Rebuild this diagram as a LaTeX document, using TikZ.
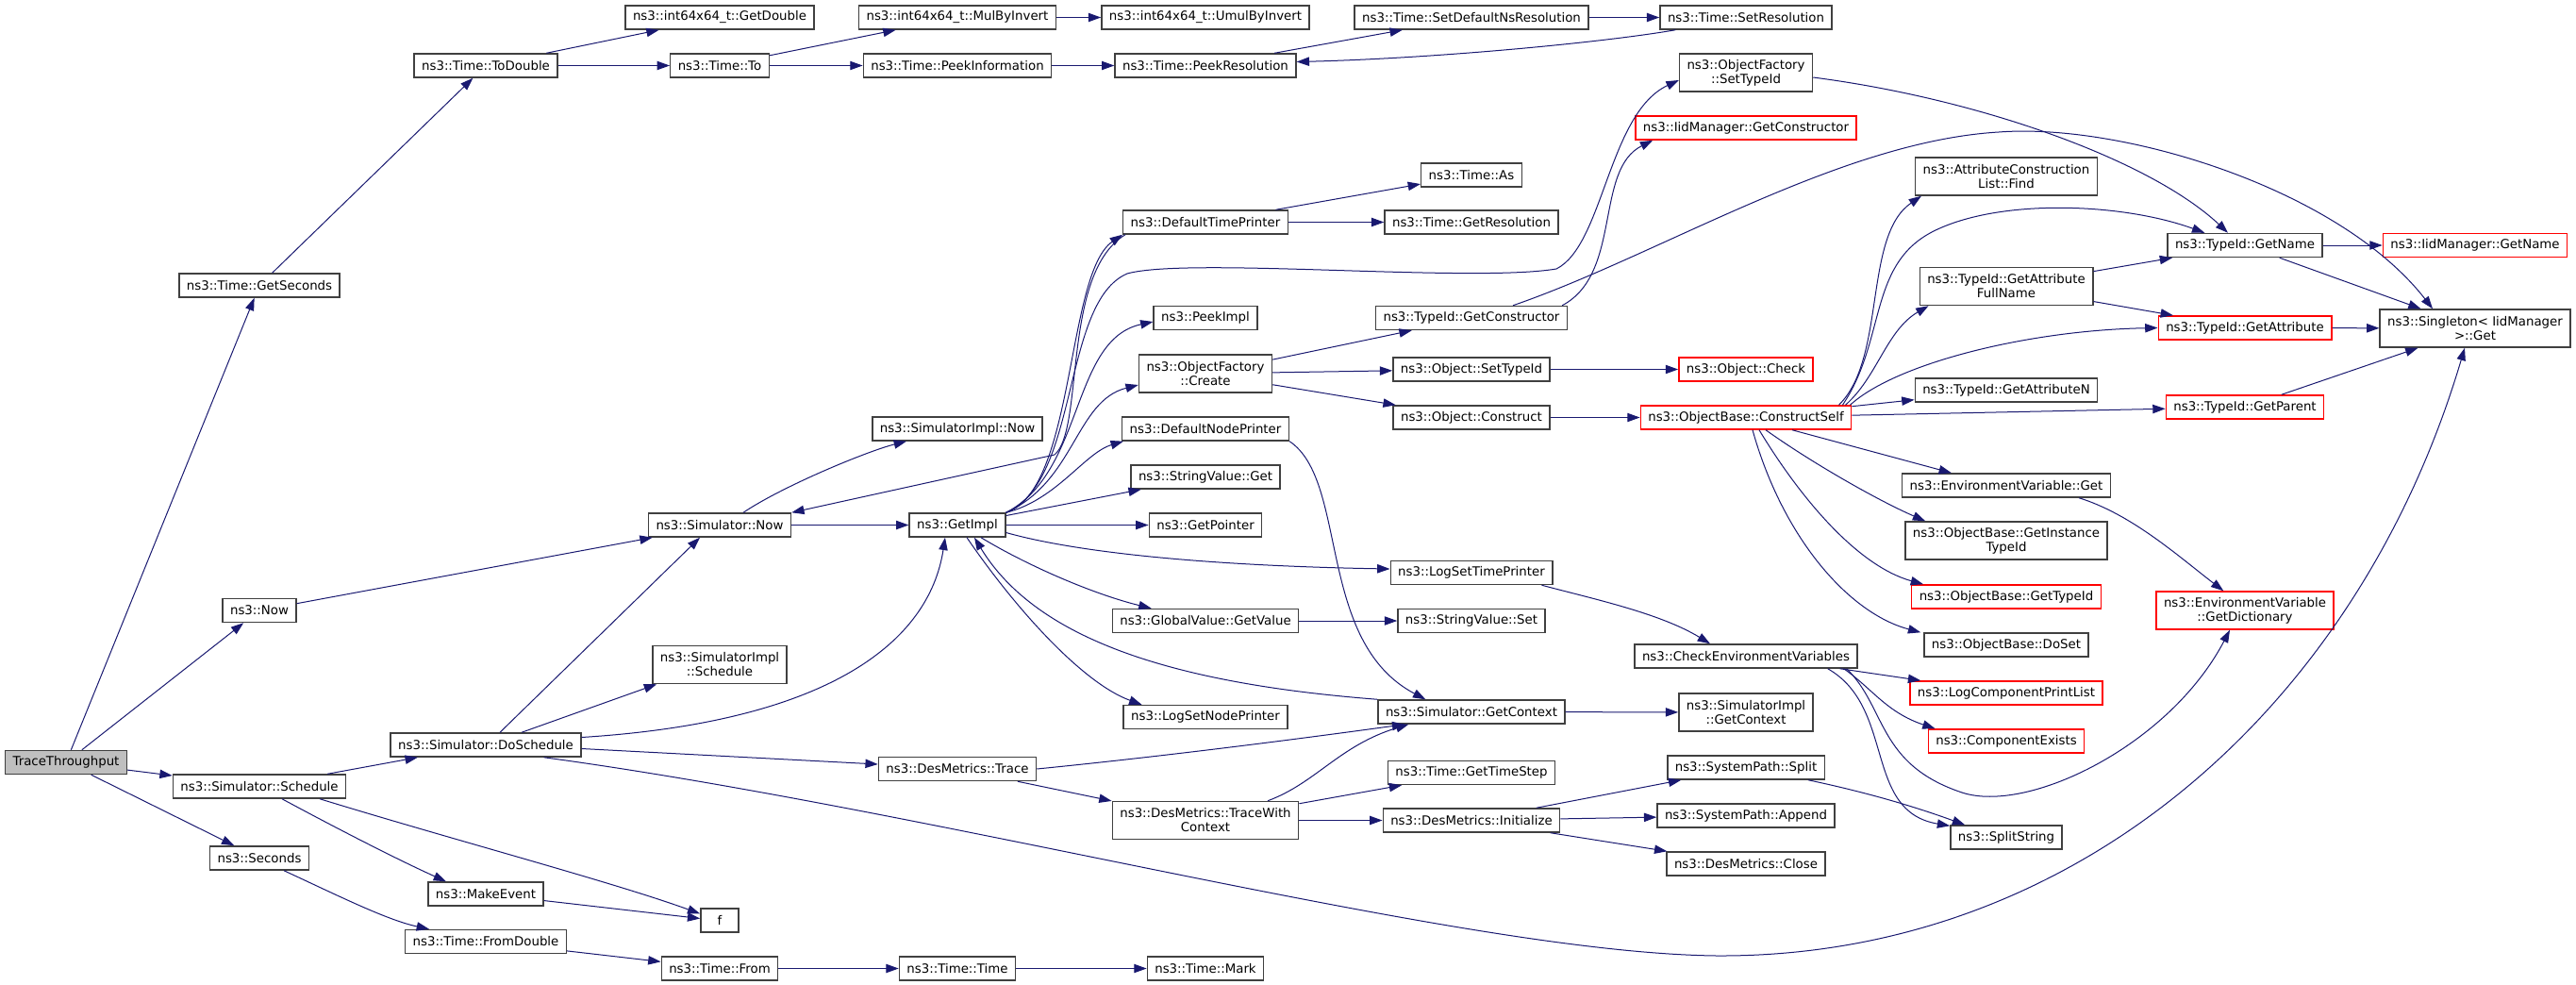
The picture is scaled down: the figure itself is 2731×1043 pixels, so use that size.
\documentclass[tikz,border=0pt]{standalone}
\usepackage{fontspec}
\setmainfont{DejaVu Sans}
\usepackage{tikz}
\usetikzlibrary{calc,arrows.meta}
\definecolor{midnight}{HTML}{191970}
\definecolor{boxgray}{HTML}{404040}
\definecolor{rootgray}{HTML}{BFBFBF}
\newcommand{\callcolor}{midnight}
\newcommand{\callpen}{0.75pt}
\newcommand{\boxpen}{1.1pt}
\newcommand{\fnfont}{\fontsize{10pt}{11.25pt}\selectfont}
\tikzset{
  fn/.style={draw=boxgray, fill=white, line width=\boxpen, inner xsep=6pt, inner ysep=1pt, minimum height=18.75pt, align=center, font=\fnfont},
  twoline/.style={minimum height=30pt},
  trunc/.style={draw=red},
  rootfn/.style={fill=rootgray},
  call/.style={draw=\callcolor, line width=\callpen, -{Triangle[length=10pt,width=7pt]}}
}

\begin{document}
\begin{tikzpicture}[x=0.75pt, y=-0.75pt]
\useasboundingbox (0,0) rectangle (2731,1043);
\node[fn, rootfn] (1) at (70, 808) {TraceThroughput};
\node[fn] (2) at (275, 302.5) {ns3::Time::GetSeconds};
\node[fn] (3) at (275, 647) {ns3::Now};
\node[fn] (4) at (275, 833.5) {ns3::Simulator::Schedule};
\node[fn] (5) at (275, 909.5) {ns3::Seconds};
\node[fn] (6) at (515, 69.5) {ns3::Time::ToDouble};
\node[fn] (7) at (515, 789.5) {ns3::Simulator::DoSchedule};
\node[fn] (8) at (515, 947.5) {ns3::MakeEvent};
\node[fn] (9) at (515, 998) {ns3::Time::FromDouble};
\node[fn] (10) at (763, 18.5) {ns3::int64x64\_t::GetDouble};
\node[fn] (11) at (763, 69.5) {ns3::Time::To};
\node[fn] (12) at (763, 556.5) {ns3::Simulator::Now};
\node[fn, twoline] (13) at (763, 704.5) {ns3::SimulatorImpl\\::Schedule};
\node[fn, minimum width=30pt] (14) at (763, 975.5) {f};
\node[fn] (15) at (763, 1026.5) {ns3::Time::From};
\node[fn] (16) at (1015, 18.5) {ns3::int64x64\_t::MulByInvert};
\node[fn] (17) at (1015, 69.5) {ns3::Time::PeekInformation};
\node[fn] (18) at (1015, 454.5) {ns3::SimulatorImpl::Now};
\node[fn] (19) at (1015, 556.5) {ns3::GetImpl};
\node[fn] (20) at (1015, 815) {ns3::DesMetrics::Trace};
\node[fn] (21) at (1015, 1026.5) {ns3::Time::Time};
\node[fn] (22) at (1278, 18.5) {ns3::int64x64\_t::UmulByInvert};
\node[fn] (23) at (1278, 69.5) {ns3::Time::PeekResolution};
\node[fn] (24) at (1278, 235.5) {ns3::DefaultTimePrinter};
\node[fn] (25) at (1278, 337) {ns3::PeekImpl};
\node[fn, twoline] (26) at (1278, 396) {ns3::ObjectFactory\\::Create};
\node[fn] (27) at (1278, 454.5) {ns3::DefaultNodePrinter};
\node[fn] (28) at (1278, 505.5) {ns3::StringValue::Get};
\node[fn] (29) at (1278, 556.5) {ns3::GetPointer};
\node[fn] (30) at (1278, 658) {ns3::GlobalValue::GetValue};
\node[fn] (31) at (1278, 760) {ns3::LogSetNodePrinter};
\node[fn, twoline] (32) at (1278, 869.5) {ns3::DesMetrics::TraceWith\\Context};
\node[fn] (33) at (1278, 1026.5) {ns3::Time::Mark};
\node[fn] (34) at (1560, 18.5) {ns3::Time::SetDefaultNsResolution};
\node[fn] (35) at (1560, 185.5) {ns3::Time::As};
\node[fn] (36) at (1560, 235.5) {ns3::Time::GetResolution};
\node[fn] (37) at (1560, 337) {ns3::TypeId::GetConstructor};
\node[fn] (38) at (1560, 391.5) {ns3::Object::SetTypeId};
\node[fn] (39) at (1560, 442.5) {ns3::Object::Construct};
\node[fn] (40) at (1560, 607) {ns3::LogSetTimePrinter};
\node[fn] (41) at (1560, 658) {ns3::StringValue::Set};
\node[fn] (42) at (1560, 754.5) {ns3::Simulator::GetContext};
\node[fn] (43) at (1560, 819) {ns3::Time::GetTimeStep};
\node[fn] (44) at (1560, 869.5) {ns3::DesMetrics::Initialize};
\node[fn] (45) at (1851, 18.5) {ns3::Time::SetResolution};
\node[fn, twoline] (46) at (1851, 77) {ns3::ObjectFactory\\::SetTypeId};
\node[fn, trunc] (47) at (1851, 135.5) {ns3::IidManager::GetConstructor};
\node[fn, trunc] (48) at (1851, 391.5) {ns3::Object::Check};
\node[fn, trunc] (49) at (1851, 442.5) {ns3::ObjectBase::ConstructSelf};
\node[fn] (50) at (1851, 695.5) {ns3::CheckEnvironmentVariables};
\node[fn, twoline] (51) at (1851, 755) {ns3::SimulatorImpl\\::GetContext};
\node[fn] (52) at (1851, 813.5) {ns3::SystemPath::Split};
\node[fn] (53) at (1851, 864.5) {ns3::SystemPath::Append};
\node[fn] (54) at (1851, 915.5) {ns3::DesMetrics::Close};
\node[fn, twoline] (55) at (2127, 187) {ns3::AttributeConstruction\\List::Find};
\node[fn, twoline] (56) at (2127, 303.5) {ns3::TypeId::GetAttribute\\FullName};
\node[fn] (57) at (2127, 413.5) {ns3::TypeId::GetAttributeN};
\node[fn] (58) at (2127, 514.5) {ns3::EnvironmentVariable::Get};
\node[fn, twoline] (59) at (2127, 573) {ns3::ObjectBase::GetInstance\\TypeId};
\node[fn, trunc] (60) at (2127, 632.5) {ns3::ObjectBase::GetTypeId};
\node[fn] (61) at (2127, 683.5) {ns3::ObjectBase::DoSet};
\node[fn, trunc] (62) at (2127, 734.5) {ns3::LogComponentPrintList};
\node[fn, trunc] (63) at (2127, 785.5) {ns3::ComponentExists};
\node[fn] (64) at (2127, 887.5) {ns3::SplitString};
\node[fn] (65) at (2380, 260) {ns3::TypeId::GetName};
\node[fn, trunc] (66) at (2380, 347.5) {ns3::TypeId::GetAttribute};
\node[fn, trunc] (67) at (2380, 431.5) {ns3::TypeId::GetParent};
\node[fn, twoline, trunc] (68) at (2380, 647) {ns3::EnvironmentVariable\\::GetDictionary};
\node[fn, trunc] (69) at (2624, 260) {ns3::IidManager::GetName};
\node[fn, twoline] (70) at (2624, 348) {ns3::Singleton< IidManager\\>::Get};
%1
\draw[call] (1) -- (2);
\draw[call] (1) -- (3);
\draw[call] (1) -- (4);
\draw[call] (1) -- (5);
%2 3 4 5
\draw[call] (2) -- (6);
\draw[call] (3) -- (12);
\draw[call] (4) -- (7);
\draw[call] ($(4.south)+(24,0)$) .. controls (370,885) and (430,915) .. ($(8.north)+(-42,0)$);
\draw[call] ($(4.south)+(64,0)$) .. controls (480,890) and (650,935) .. ($(14.west)+(0,-7)$);
\draw[call] ($(5.south)+(26,0)$) .. controls (360,950) and (410,975) .. ($(9.north)+(-60,0)$);
%6
\draw[call] (6) -- (10);
\draw[call] (6) -- (11);
%7
\draw[call] ($(7.north)+(15,0)$) -- ($(12.south)+(-21,0)$);
\draw[call] ($(7.north)+(38,0)$) -- ($(13.south west)+(5,0)$);
\draw[call] ($(7.east)+(0,-8)$) .. controls (880,765) and (985,680) .. ($(19.south)+(-13,0)$);
\draw[call] ($(7.east)+(0,4)$) -- ($(20.west)+(0,-5)$);
\draw[call] ($(7.south east)+(-40,0)$) .. controls (1000,860) and (1550,1010) .. (1820,1013) .. controls (2200,1015) and (2500,750) .. ($(70.south)+(-11,0)$);
%8 9
\draw[call] (8) -- ($(14.west)+(0,-2)$);
\draw[call] (9) -- (15);
%11 12
\draw[call] (11) -- (16);
\draw[call] (11) -- (17);
\draw[call] ($(12.north)+(25,0)$) .. controls (830,515) and (920,478) .. ($(18.south)+(-54,0)$);
\draw[call] (12) -- (19);
%15 16 17
\draw[call] (15) -- (21);
\draw[call] (16) -- (22);
\draw[call] (17) -- (23);
%19
\draw[call] (19.north east) .. controls (1140,520) and (1130,290) .. (24.south west);
\draw[call] (19.north east) .. controls (1145,510) and (1125,320) .. (1195,290) .. controls (1260,272) and (1560,300) .. (1650,285) .. controls (1700,260) and (1705,120) .. ($(46.west)+(0,8)$);
\draw[call] (19.north east) .. controls (1150,500) and (1135,360) .. ($(25.west)+(0,4)$);
\draw[call] (19.north east) .. controls (1140,510) and (1140,425) .. ($(26.west)+(0,12)$);
\draw[call] (19.north east) .. controls (1120,530) and (1150,480) .. ($(27.south west)+(2,0)$);
\draw[call] (19) -- (28);
\draw[call] (19) -- (29);
\draw[call] ($(19.east)+(0,8)$) .. controls (1150,588) and (1300,600) .. ($(40.west)+(0,-4)$);
\draw[call] ($(19.south)+(25,0)$) .. controls (1090,600) and (1160,630) .. ($(30.north west)+(42,0)$);
\draw[call] ($(19.south)+(10,0)$) .. controls (1080,650) and (1150,725) .. ($(31.north west)+(20,0)$);
%20
\draw[call] (20) -- (32);
\draw[call] (20.east) .. controls (1250,800) and (1400,780) .. ($(42.south west)+(29,0)$);
%21
\draw[call] (21) -- (33);
%23
\draw[call] (23) -- (34);
%24
\draw[call] (24) -- (35);
\draw[call] (24) -- (36);
\draw[call] ($(24.south west)+(3,0)$) .. controls (1125,290) and (1150,455) .. (1118,482) -- (12.north east);
%26
\draw[call] (26) -- (37);
\draw[call] (26) -- (38);
\draw[call] (26) -- (39);
%27
\draw[call] (27.south east) .. controls (1430,510) and (1395,680) .. ($(42.north west)+(51,0)$);
%30
\draw[call] (30) -- (41);
%32
\draw[call] ($(32.north)+(66,0)$) .. controls (1395,830) and (1420,790) .. ($(42.south west)+(33,0)$);
\draw[call] (32) -- (43);
\draw[call] (32) -- (44);
%34
\draw[call] (34) -- (45);
%37
\draw[call] ($(37.north east)+(-6,0)$) .. controls (1720,290) and (1690,180) .. ($(47.south west)+(19,0)$);
\draw[call] ($(37.north)+(44,0)$) .. controls (1760,270) and (1950,150) .. (2119,140) .. controls (2250,130) and (2480,200) .. ($(70.north)+(-45,0)$);
%38 39
\draw[call] (38) -- (48);
\draw[call] (39) -- (49);
%40
\draw[call] ($(40.south east)+(-12,0)$) .. controls (1690,635) and (1760,650) .. ($(50.north)+(-38,0)$);
%42
\draw[call] (42) -- (51);
\draw[call] (42.north west) .. controls (1250,725) and (1100,680) .. ($(19.south)+(18,0)$);
%44
\draw[call] (44) -- (52);
\draw[call] (44) -- (53);
\draw[call] (44) -- (54);
%45 46
\draw[call] ($(45.south west)+(17,0)$) .. controls (1700,45) and (1520,62) .. ($(23.east)+(0,-4)$);
\draw[call] ($(46.east)+(0,5)$) .. controls (2100,105) and (2280,170) .. ($(65.north)+(-18,0)$);
%49
\draw[call] ($(49.north east)+(-14,0)$) .. controls (2000,380) and (1975,250) .. ($(55.south west)+(7,0)$);
\draw[call] ($(49.north east)+(-10,0)$) .. controls (2000,360) and (1980,280) .. (2050,245) .. controls (2120,210) and (2250,215) .. ($(65.north west)+(40,0)$);
\draw[call] ($(49.north east)+(-7,0)$) .. controls (1990,400) and (2000,350) .. ($(56.south west)+(10,0)$);
\draw[call] ($(49.north east)+(-2,0)$) .. controls (2010,385) and (2150,350) .. (66.west);
\draw[call] (49) -- (57);
\draw[call] (49) -- (67);
\draw[call] ($(49.south)+(49,0)$) -- ($(58.north west)+(53,0)$);
\draw[call] ($(49.south)+(21,0)$) .. controls (1920,490) and (1990,530) .. ($(59.north west)+(22,0)$);
\draw[call] ($(49.south)+(14,0)$) .. controls (1910,530) and (1970,600) .. ($(60.north west)+(13,0)$);
\draw[call] ($(49.south)+(7,0)$) .. controls (1890,570) and (1960,650) .. ($(61.north west)+(-3,0)$);
%50
\draw[call] ($(50.south east)+(-19,0)$) -- ($(62.north west)+(12,0)$);
\draw[call] ($(50.south east)+(-15,0)$) .. controls (1985,730) and (2000,755) .. ($(63.north west)+(8,0)$);
\draw[call] ($(50.south east)+(-12,0)$) .. controls (2000,750) and (1990,810) .. (2080,840) .. controls (2150,863) and (2300,790) .. ($(68.south)+(-16,0)$);
\draw[call] ($(50.south east)+(-32,0)$) .. controls (2010,750) and (1975,860) .. ($(64.north west)+(0,1)$);
%52
\draw[call] ($(52.south east)+(-18,0)$) .. controls (1980,840) and (2030,855) .. ($(64.north west)+(16,0)$);
%56
\draw[call] (56) -- (65);
\draw[call] (56) -- (66);
%58
\draw[call] ($(58.south east)+(-34,0)$) .. controls (2260,545) and (2310,590) .. ($(68.north west)+(72,0)$);
%65 66 67
\draw[call] (65) -- (69);
\draw[call] (65) -- (70);
\draw[call] (66) -- (70);
\draw[call] (67) -- (70);
\end{tikzpicture}
\end{document}
